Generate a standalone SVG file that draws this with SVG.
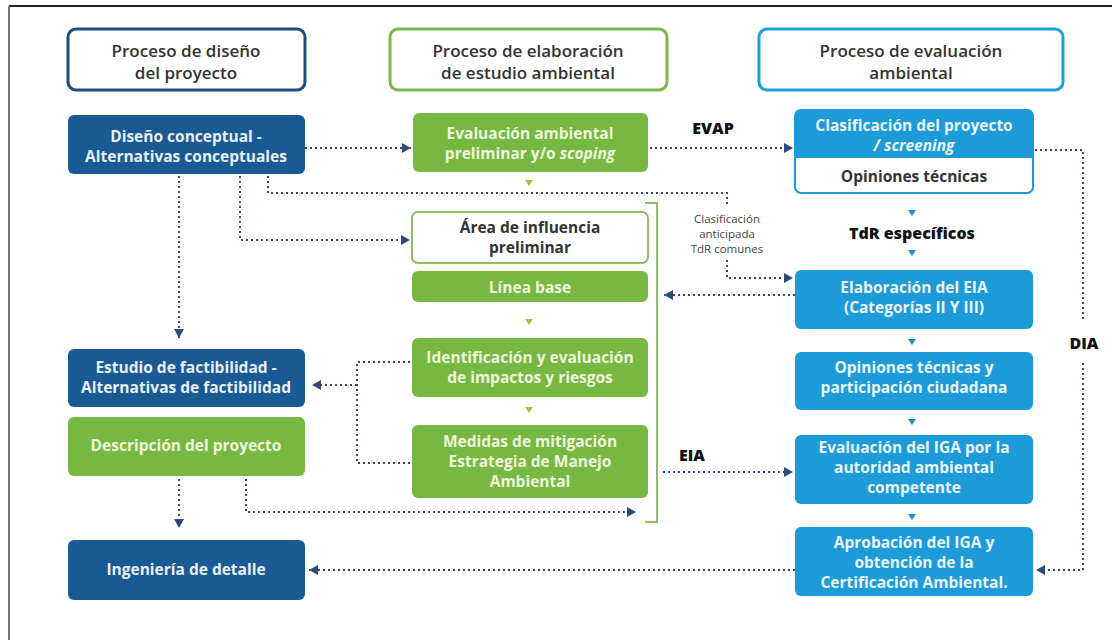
<svg xmlns="http://www.w3.org/2000/svg" width="1112" height="640" viewBox="0 0 1112 640">
<style>
text{font-family:"Open Sans","Noto Sans","Liberation Sans",sans-serif;text-anchor:middle}
.hdr{font-size:17px;font-weight:600;fill:#333}
.wt{font-size:15.5px;font-weight:700}
.db{fill:#195a94}
.gr{fill:#77b843}
.bl{fill:#1d9bd8}
.tdb{fill:#eaf0f8}
.tgr{fill:#eff7dc}
.tbl{fill:#e9f6fd}
.lbl{font-size:16px;font-weight:800;fill:#111}
.small{font-size:11.5px;fill:#444}
.dot{fill:none;stroke:#34476f;stroke-width:2;stroke-dasharray:2 3}
.tg{fill:#a6c23c}
.tb{fill:#1f8fcc}
</style>
<defs>
<marker id="ah" markerUnits="userSpaceOnUse" markerWidth="9" markerHeight="10" refX="9" refY="5" orient="auto">
<path d="M0,0 L9,5 L0,10 z" fill="#2f4a7a"/>
</marker>
</defs>
<rect x="0" y="0" width="1112" height="640" fill="#fff"/>
<g id="frame">
<line x1="9" y1="6" x2="1112" y2="6" stroke="#222" stroke-width="2"/>
<line x1="9" y1="6" x2="9" y2="640" stroke="#777" stroke-width="2"/>
</g>

<g id="h1"><rect x="68" y="29" width="237" height="61" rx="8" fill="#fff" stroke="#1d4e80" stroke-width="3"/>
<text class="hdr" x="186" y="57">Proceso de diseño</text><text class="hdr" x="186" y="79">del proyecto</text></g>
<g id="h2"><rect x="390" y="29" width="277" height="61" rx="8" fill="#fff" stroke="#7ab648" stroke-width="3"/>
<text class="hdr" x="528" y="57">Proceso de elaboración</text><text class="hdr" x="528" y="79">de estudio ambiental</text></g>
<g id="h3"><rect x="759" y="29" width="304" height="61" rx="8" fill="#fff" stroke="#1ba1dd" stroke-width="3"/>
<text class="hdr" x="911" y="57">Proceso de evaluación</text><text class="hdr" x="911" y="79">ambiental</text></g>

<g id="n_diseno"><rect class="db" x="68" y="115" width="237" height="59" rx="6"/>
<text class="wt tdb" x="186" y="142">Diseño conceptual -</text><text class="wt tdb" x="186" y="162">Alternativas conceptuales</text></g>
<g id="n_factibilidad"><rect class="db" x="68" y="349" width="237" height="58" rx="6"/>
<text class="wt tdb" x="186" y="373">Estudio de factibilidad -</text><text class="wt tdb" x="186" y="393">Alternativas de factibilidad</text></g>
<g id="n_descripcion"><rect class="gr" x="68" y="417" width="237" height="59" rx="6"/>
<text class="wt tgr" x="186" y="451">Descripción del proyecto</text></g>
<g id="n_ingenieria"><rect class="db" x="68" y="540" width="237" height="60" rx="6"/>
<text class="wt tdb" x="186" y="575">Ingeniería de detalle</text></g>

<g id="n_evap"><rect class="gr" x="413" y="113" width="235" height="59" rx="6"/>
<text class="wt tgr" x="530" y="139">Evaluación ambiental</text><text class="wt tgr" x="530" y="159">preliminar y/o <tspan font-style="italic">scoping</tspan></text></g>
<g id="n_area"><rect x="412" y="212" width="236" height="51" rx="6" fill="#fff" stroke="#8cc063" stroke-width="2"/>
<text class="wt" fill="#333" x="530" y="233">Área de influencia</text><text class="wt" fill="#333" x="530" y="253">preliminar</text></g>
<g id="n_linea"><rect class="gr" x="412" y="271" width="236" height="31" rx="6"/>
<text class="wt tgr" x="530" y="293">Línea base</text></g>
<g id="n_identificacion"><rect class="gr" x="412" y="338" width="236" height="59" rx="6"/>
<text class="wt tgr" x="530" y="363">Identificación y evaluación</text><text class="wt tgr" x="530" y="383">de impactos y riesgos</text></g>
<g id="n_medidas"><rect class="gr" x="412" y="425" width="236" height="73" rx="6"/>
<text class="wt tgr" x="530" y="447">Medidas de mitigación</text><text class="wt tgr" x="530" y="467">Estrategia de Manejo</text><text class="wt tgr" x="530" y="487">Ambiental</text></g>
<g id="bracket"><path d="M645,203 H657 V522 H645" fill="none" stroke="#8cc063" stroke-width="2"/></g>

<g id="n_clasificacion"><rect x="795" y="110" width="238" height="83" rx="6" fill="#fff" stroke="#1d9bd8" stroke-width="2"/>
<path class="bl" d="M801,110 H1027 A6,6 0 0 1 1033,116 V158 H795 V116 A6,6 0 0 1 801,110 z"/>
<text class="wt tbl" x="914" y="131">Clasificación del proyecto</text><text class="wt tbl" x="914" y="151"><tspan font-style="italic">/ screening</tspan></text>
<text class="wt" fill="#333" x="914" y="182" font-weight="600">Opiniones técnicas</text></g>
<g id="n_tdr"><text class="lbl" x="912" y="239">TdR específicos</text></g>
<g id="n_elaboracion"><rect class="bl" x="795" y="270" width="238" height="59" rx="6"/>
<text class="wt tbl" x="914" y="293">Elaboración del EIA</text><text class="wt tbl" x="914" y="313">(Categorías II Y III)</text></g>
<g id="n_opiniones"><rect class="bl" x="795" y="352" width="238" height="58" rx="6"/>
<text class="wt tbl" x="914" y="373">Opiniones técnicas y</text><text class="wt tbl" x="914" y="393">participación ciudadana</text></g>
<g id="n_evaluacion"><rect class="bl" x="795" y="435" width="238" height="69" rx="6"/>
<text class="wt tbl" x="914" y="453">Evaluación del IGA por la</text><text class="wt tbl" x="914" y="473">autoridad ambiental</text><text class="wt tbl" x="914" y="493">competente</text></g>
<g id="n_aprobacion"><rect class="bl" x="795" y="527" width="238" height="69" rx="6"/>
<text class="wt tbl" x="914" y="548">Aprobación del IGA y</text><text class="wt tbl" x="914" y="568">obtención de la</text><text class="wt tbl" x="914" y="588">Certificación Ambiental.</text></g>

<g id="connectors">
<path class="dot" d="M305,148 H411" marker-end="url(#ah)"/>
<path class="dot" d="M650,148 H793" marker-end="url(#ah)"/>
<path class="dot" d="M1035,150 H1083 V322"/>
<path class="dot" d="M1083,363 V570 H1036" marker-end="url(#ah)"/>
<path class="dot" d="M268,176 V193 H727 V207"/>
<path class="dot" d="M727,260 V278 H793" marker-end="url(#ah)"/>
<path class="dot" d="M240,176 V240 H410" marker-end="url(#ah)"/>
<path class="dot" d="M179,176 V338" marker-end="url(#ah)"/>
<path class="dot" d="M795,295 H664" marker-end="url(#ah)"/>
<path class="dot" d="M410,362 H357 V463 H410"/>
<path class="dot" d="M357,385 H312" marker-end="url(#ah)"/>
<path class="dot" d="M663,472 H793" marker-end="url(#ah)"/>
<path class="dot" d="M246,479 V512 H636" marker-end="url(#ah)"/>
<path class="dot" d="M179,479 V528" marker-end="url(#ah)"/>
<path class="dot" d="M795,570 H309" marker-end="url(#ah)"/>
<polygon class="tg" points="525,180 533,180 529,186"/>
<polygon class="tg" points="525,319 533,319 529,325"/>
<polygon class="tg" points="525,407 533,407 529,413"/>
<polygon class="tb" points="908,210 916,210 912,216"/>
<polygon class="tb" points="908,250 916,250 912,256"/>
<polygon class="tb" points="908,339 916,339 912,345"/>
<polygon class="tb" points="908,419 916,419 912,425"/>
<polygon class="tb" points="908,514 916,514 912,520"/>
</g>
<g id="labels">
<text class="lbl" x="713" y="134">EVAP</text>
<text class="lbl" x="692" y="461">EIA</text>
<text class="lbl" x="1084" y="349">DIA</text>
<text class="small" x="727" y="223">Clasificación</text>
<text class="small" x="727" y="238">anticipada</text>
<text class="small" x="727" y="253">TdR comunes</text>
</g>
</svg>
